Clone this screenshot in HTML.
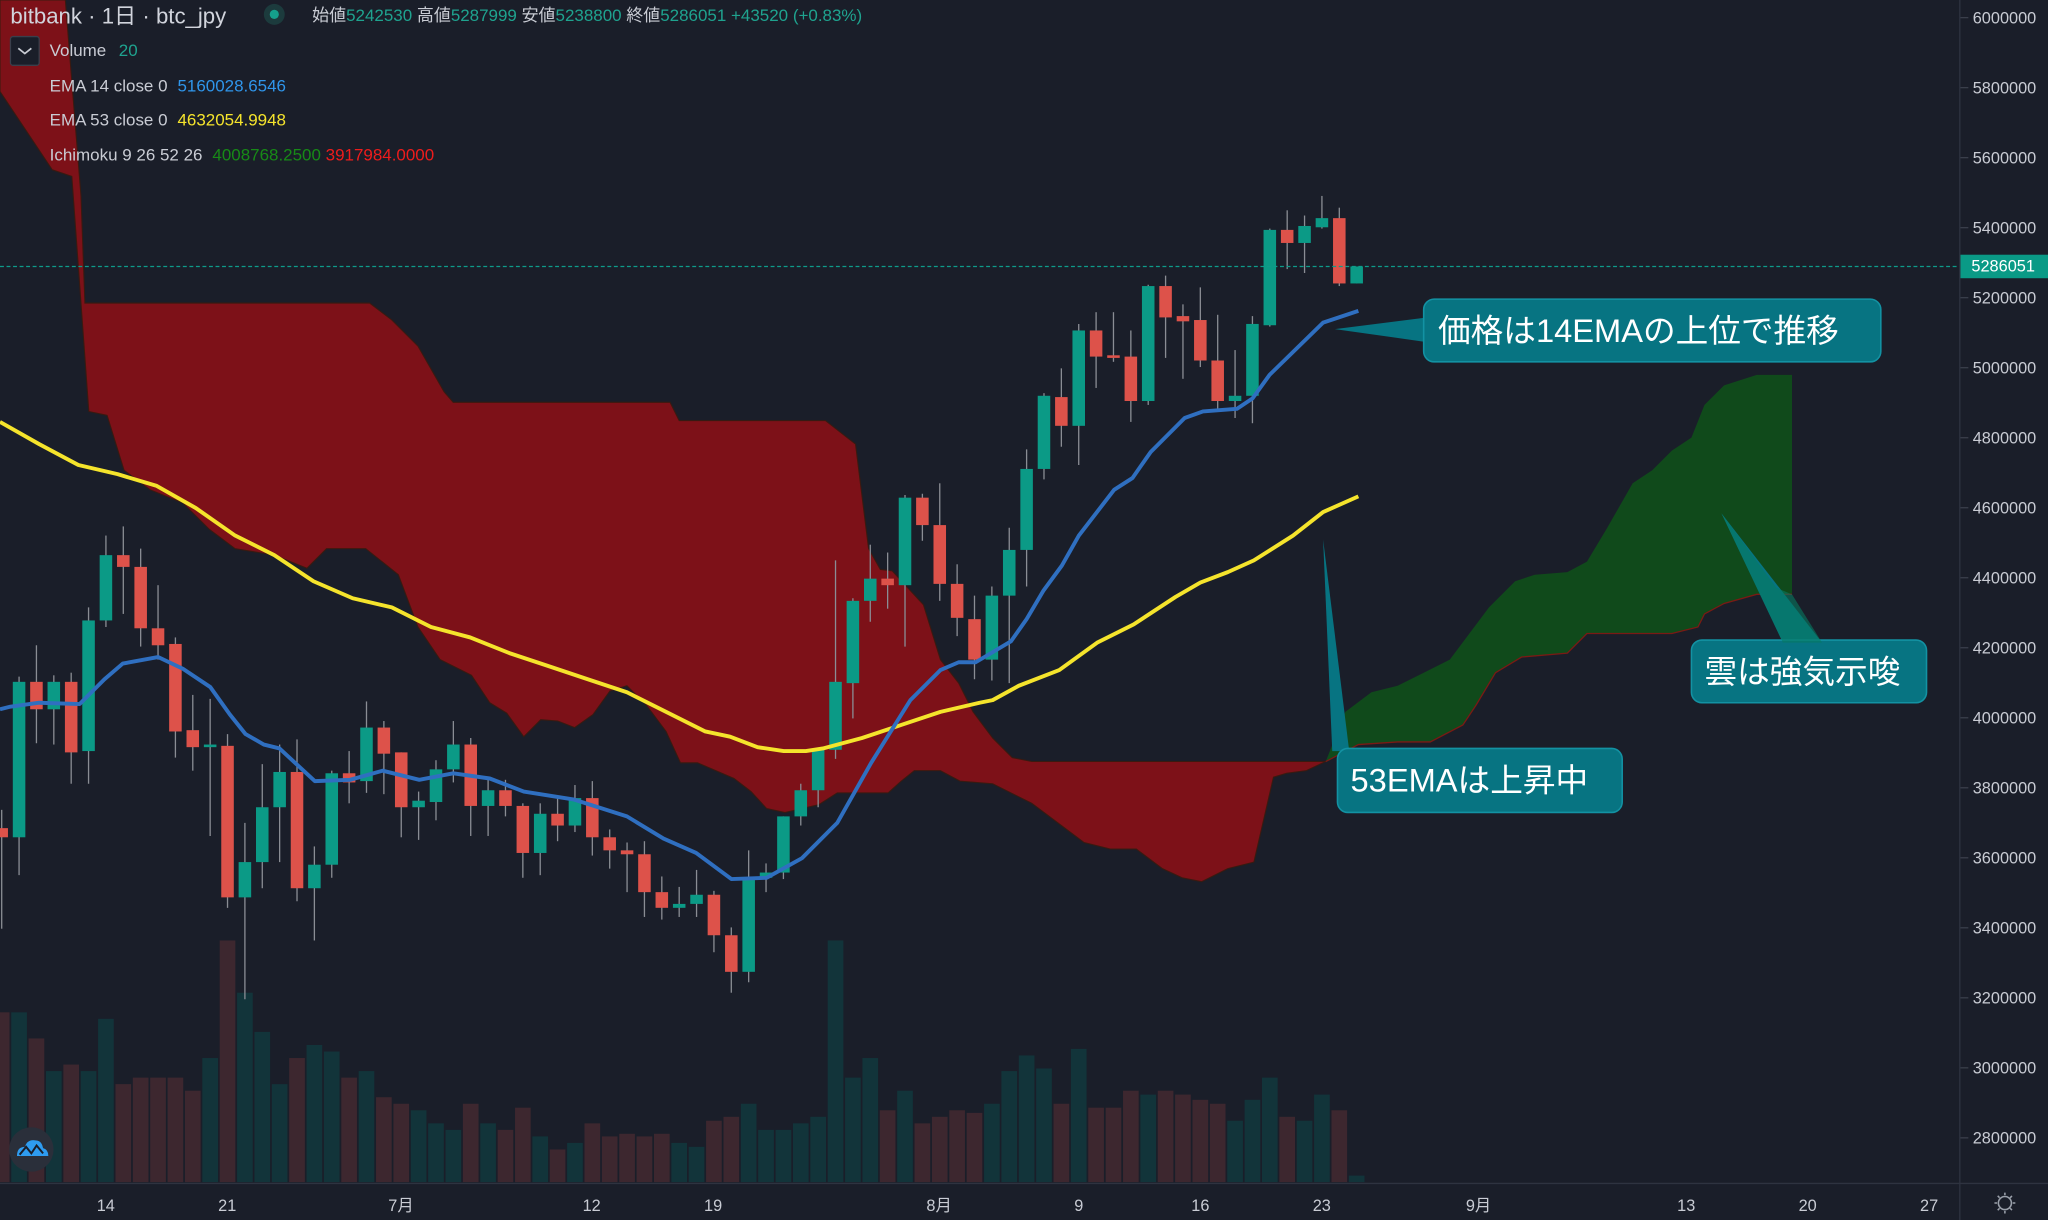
<!DOCTYPE html>
<html><head><meta charset="utf-8">
<style>
html,body{margin:0;padding:0;background:#1a1e29;overflow:hidden}
svg{display:block}
text{font-family:"Liberation Sans","Noto Sans CJK JP",sans-serif}
</style></head>
<body>
<svg id="c" xmlns="http://www.w3.org/2000/svg" width="2048" height="1220" viewBox="0 0 1568 934" preserveAspectRatio="none">
<rect x="0" y="0" width="1568" height="934" fill="#1a1e29"/>
<g id="vol"></g>
<!-- red cloud -->
<polygon fill="#7d1118" stroke="#3a1a10" stroke-width="0.8" points="0,0 50,0 58,100 62,150 65,232 283,232 300,245 320,265 340,300 347,308 513,308 520,322 632,322 655,340 665,420 674,436 683,437 707,463 720,505 734,523 745,545 760,565 775,580 790,583 1015,583 1000,590 985,592 975,595 960,660 940,665 920,675 905,672 890,665 870,650 850,650 830,645 810,630 790,615 760,600 735,598 720,590 700,590 690,598 680,607 641,607 627,616 614,619 601,622 587,619 575,606 562,596 534,584 521,584 510,560 495,540 480,525 467,529 454,547 440,557 427,552 414,551 401,564 388,546 375,538 361,517 337,505 320,480 305,440 280,420 250,420 235,435 210,425 180,420 160,405 140,385 115,375 95,360 82,318 68,315 55,135 40,130 0,70"/>
<!-- green cloud -->
<polygon fill="#104a1b" points="1015,583 1030,545 1050,530 1070,525 1090,515 1110,505 1125,485 1140,465 1160,445 1175,440 1200,438 1215,430 1230,405 1250,370 1265,360 1280,345 1295,335 1305,310 1320,295 1345,287 1372,287 1372,455 1345,455 1320,462 1305,470 1300,480 1280,485 1215,485 1200,500 1165,503 1145,515 1130,540 1120,555 1095,568 1070,568 1040,570"/>
<polyline fill="none" stroke="#7a1a14" stroke-width="1" points="1015,583 1040,570 1070,568 1095,568 1120,555 1130,540 1145,515 1165,503 1200,500 1215,485 1280,485 1300,480 1305,470 1320,462 1345,455 1372,455"/>
<g id="cand"></g>
<polyline fill="none" stroke="#f5e42c" stroke-width="3" stroke-linejoin="round" points="0,323 30,340 60,356 90,363 120,372 150,389 180,410 210,425 240,445 270,458 300,465 330,480 360,488 390,500 420,510 450,520 480,530 510,545 540,560 559,564 580,572 600,575 617,575 630,573 660,565 690,555 720,545 750,538 760,536 780,525 811,513 840,492 868,478 900,457 919,446 940,438 960,429 990,410 1013,392 1040,380"/>
<polyline fill="none" stroke="#2f6fc0" stroke-width="3" stroke-linejoin="round" points="0,543 8,541 30,538 61,539 80,520 94,508 121,503 140,512 161,526 176,547 188,562 202,570 214,573 241,598 268,597 293,590 321,597 347,592 375,596 401,606 439,612 480,625 508,642 533,653 560,673 587,672 614,657 641,630 667,584 697,536 720,513 734,507 747,507 774,491 786,474 799,452 813,433 826,410 853,375 867,366 881,346 907,320 921,315 947,313 959,305 972,287 1013,247 1040,238"/>
<!-- current price line -->
<line x1="0" y1="204" x2="1500" y2="204" stroke="#0e9b8a" stroke-width="1" stroke-dasharray="3,2"/>
<!-- callouts -->
<g fill="#077482" stroke="#1392a3" stroke-width="1.2">
<polygon points="1093,243 1022,252 1093,262" stroke="none"/>
<rect x="1090" y="229" width="350" height="48" rx="8"/>
<polygon points="1365,492 1318,393 1395,492" stroke="none" fill="#077482"/>
<rect x="1295" y="490" width="180" height="48" rx="8"/>
<polygon points="1020,575 1013,413 1033,575" stroke="none"/>
<rect x="1024" y="573" width="218" height="49" rx="8"/>
</g>
<polygon points="1365,492 1318,393 1360,450 1372,455 1395,492" fill="#077a60" opacity="0.6"/>
<g fill="#ffffff" font-size="25">
<text x="1101" y="262">価格は14EMAの上位で推移</text>
<text x="1305" y="523">雲は強気示唆</text>
<text x="1034" y="606">53EMAは上昇中</text>
</g>
<!-- axes -->
<line x1="1500.5" y1="0" x2="1500.5" y2="934" stroke="#2e3340" stroke-width="1"/>
<line x1="0" y1="906" x2="1568" y2="906" stroke="#2e3340" stroke-width="1"/>
<g id="yax" font-size="12.5" fill="#c9ccd4" text-anchor="end"></g>
<rect x="1501" y="195" width="67" height="18" fill="#0a9a86"/>
<text x="1558" y="208" font-size="12.5" fill="#ffffff" text-anchor="end">5286051</text>
<g font-size="12.5" fill="#c9ccd4" text-anchor="middle">
<text x="81" y="927">14</text><text x="174" y="927">21</text><text x="307" y="927">7月</text>
<text x="453" y="927">12</text><text x="546" y="927">19</text><text x="719" y="927">8月</text>
<text x="826" y="927">9</text><text x="919" y="927">16</text><text x="1012" y="927">23</text>
<text x="1132" y="927">9月</text><text x="1291" y="927">13</text><text x="1384" y="927">20</text><text x="1477" y="927">27</text>
</g>
<g stroke="#9aa0aa" stroke-width="1.2" fill="none"><circle cx="1535" cy="921" r="5"/>
<path d="M1535 913v2M1535 927v2M1527 921h2M1541 921h2M1529.5 915.5l1.4 1.4M1539 925l1.4 1.4M1529.5 926.5l1.4-1.4M1539 917l1.4-1.4"/></g>
<!-- logo -->
<circle cx="24" cy="880" r="17" fill="#2a2f3a"/>
<path d="M13 885 q0-7 6-7 q2-6 8-5 q5 0 6 6 q4 1 4 6z" fill="#2e9cf0"/>
<path d="M15 884 l5-6 l4 5 l4-6 l5 6" stroke="#1a1e29" stroke-width="1.5" fill="none"/>
<!-- header -->
<text x="8" y="18" font-size="17" fill="#d1d4dc">bitbank · 1日 · btc_jpy</text>
<circle cx="210" cy="11" r="8" fill="#1c3b3d"/><circle cx="210" cy="11" r="3.5" fill="#15a08c"/>
<text x="239" y="16" font-size="13" fill="#c9ccd4">始値<tspan fill="#1fa38f">5242530</tspan> 高値<tspan fill="#1fa38f">5287999</tspan> 安値<tspan fill="#1fa38f">5238800</tspan> 終値<tspan fill="#1fa38f">5286051</tspan> <tspan fill="#1fa38f">+43520 (+0.83%)</tspan></text>
<rect x="8" y="28" width="22" height="22" rx="2" fill="#1a1e29" stroke="#3a3f4b"/>
<path d="M14 37 l5 4 l5-4" stroke="#c9ccd4" stroke-width="1.3" fill="none"/>
<g font-size="13" fill="#c9ccd4">
<text x="38" y="43">Volume <tspan dx="6" fill="#1fa38f">20</tspan></text>
<text x="38" y="70">EMA 14 close 0 <tspan dx="4" fill="#2f95ea">5160028.6546</tspan></text>
<text x="38" y="96">EMA 53 close 0 <tspan dx="4" fill="#f5e42c">4632054.9948</tspan></text>
<text x="38" y="123">Ichimoku 9 26 52 26 <tspan dx="4" fill="#178a17">4008768.2500</tspan> <tspan fill="#ee1c1c">3917984.0000</tspan></text>
</g>
</svg>
<script>
var NS="http://www.w3.org/2000/svg";
function el(p,t,a){var e=document.createElementNS(NS,t);for(var k in a)e.setAttribute(k,a[k]);p.appendChild(e);return e;}
var C=[[634,641,620,711,0],[522,641,518,670,1],[522,543,494,569,0],[522,543,517,570,1],[522,576,515,600,0],[475,575,465,600,1],[425,475,410,480,1],[425,434,403,470,0],[434,481,420,495,0],[481,494,448,505,0],[493,560,488,580,0],[559,572,532,590,0],[570,572,535,640,1],[571,687,562,695,0],[660,687,630,765,1],[618,660,585,680,1],[591,618,570,660,1],[591,680,566,690,0],[662,680,648,720,1],[592,662,590,672,1],[592,599,575,615,0],[557,598,537,607,1],[557,577,552,608,0],[576,618,576,641,0],[613,618,606,643,1],[589,614,582,628,1],[570,589,552,599,1],[570,617,565,640,0],[605,617,597,640,1],[605,617,597,625,0],[617,653,615,672,0],[623,653,615,670,1],[623,632,611,644,0],[611,632,601,637,1],[611,641,598,655,0],[641,651,635,665,0],[651,654,645,683,0],[654,683,644,702,0],[683,695,671,704,0],[692,695,679,702,1],[685,692,666,702,1],[685,716,682,729,0],[716,744,710,760,0],[672,744,651,752,1],[668,672,661,683,1],[625,668,625,673,1],[605,625,600,632,1],[574,605,574,618,1],[522,574,429,581,1],[460,523,458,550,1],[443,460,417,476,1],[443,448,423,466,0],[381,448,379,495,1],[381,402,378,414,0],[402,447,370,460,0],[447,473,432,487,0],[474,505,456,520,0],[456,505,449,521,1],[421,456,404,523,1],[359,421,344,449,1],[303,359,301,367,1],[304,326,282,342,0],[253,326,248,356,1],[253,273,239,297,0],[272,273,239,277,0],[273,307,253,323,0],[219,307,218,310,1],[219,243,211,274,0],[242,246,233,290,0],[245,276,220,281,0],[276,307,241,314,0],[303,307,268,320,1],[248,303,242,324,1],[176,249,175,250,1],[176,186,161,206,0],[173,186,165,209,1],[167,174,150,175,1],[167,217,159,219,0],[204,217,204,217,1]];
var V=[775,775,795,820,815,820,780,830,825,825,825,835,810,720,760,790,830,810,800,805,825,820,840,845,850,860,865,845,860,865,848,870,880,875,860,870,868,870,868,875,878,858,855,845,865,865,860,855,720,825,810,850,835,860,855,850,852,845,820,808,818,845,803,848,848,835,838,835,838,842,845,858,842,825,855,858,838,850,900];
var cg=document.getElementById("cand"),vg=document.getElementById("vol");
for(var i=0;i<C.length;i++){var x=1.3+13.3*i,c=C[i],g=c[4];
el(vg,"rect",{x:x-6,y:V[i],width:12,height:905-V[i],fill:g?"#12343a":"#3d272f"});
el(cg,"line",{x1:x,x2:x,y1:c[2],y2:c[3],stroke:"#8a8d94","stroke-width":1});
el(cg,"rect",{x:x-4.8,y:c[0],width:9.6,height:Math.max(2,c[1]-c[0]),fill:g?"#0b9a86":"#dd524a"});}
var ya=document.getElementById("yax");
for(var k=0;k<17;k++){var p=6000000-200000*k,y=13.5+k*53.6;
var t=el(ya,"text",{x:1559,y:y+4.5});t.textContent=String(p);
el(ya,"line",{x1:1501,x2:1507,y1:y,y2:y,stroke:"#3a3f4b"});}
</script>
</body></html>
